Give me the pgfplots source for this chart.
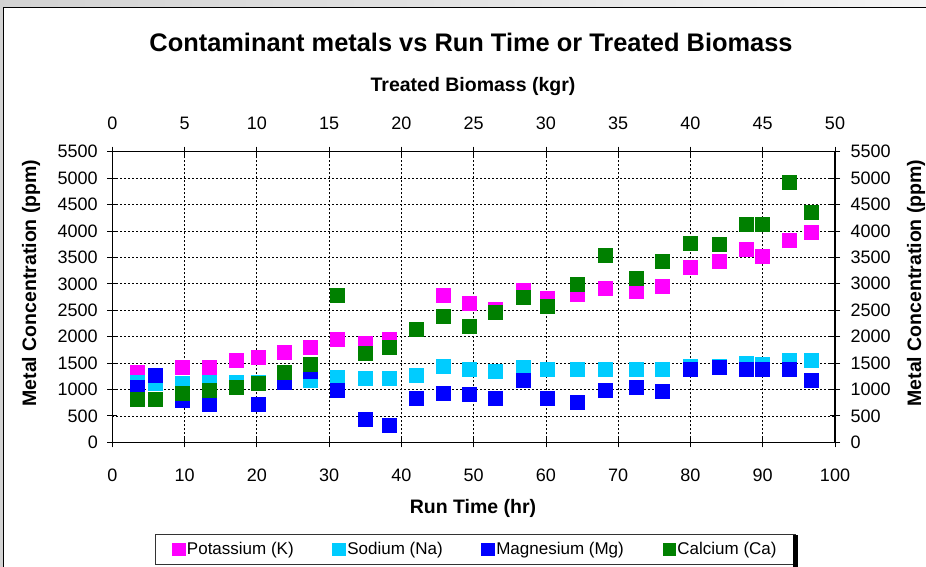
\documentclass[border=0pt]{standalone}
\usepackage{pgfplots}
\pgfplotsset{compat=1.18}
\usepackage{pgfplotstable}
\usepackage{fontspec}
\setmainfont{Liberation Sans}
\definecolor{cK}{HTML}{FF00FF}
\definecolor{cNa}{HTML}{00CCFF}
\definecolor{cMg}{HTML}{0000FF}
\definecolor{cCa}{HTML}{008000}

\pgfplotstableread{
x y
3.51 1318
9.64 1425
13.42 1425
17.21 1552
20.12 1602
23.76 1709
27.36 1804
31.15 1955
34.97 1880
38.25 1943
45.80 2782
49.45 2624
53.05 2523
56.83 2877
60.11 2731
64.26 2801
68.22 2908
72.56 2851
76.02 2959
79.98 3318
83.99 3419
87.78 3647
89.94 3520
93.73 3823
96.64 3981
}\tK
\pgfplotstableread{
x y
3.51 1141
5.87 1110
9.64 1110
13.42 1141
17.21 1141
20.12 1141
27.36 1185
31.15 1236
34.97 1217
38.25 1217
42.02 1268
45.80 1444
49.45 1375
53.05 1350
56.83 1425
60.11 1375
64.26 1375
68.22 1375
72.56 1375
76.02 1375
79.98 1444
83.99 1444
87.78 1501
89.94 1476
93.73 1551
96.64 1551
}\tNa
\pgfplotstableread{
x y
3.51 1047
5.87 1268
9.64 788
13.42 725
20.12 712
23.76 1135
27.36 1343
31.15 983
34.97 428
38.25 321
42.02 838
45.80 933
49.45 908
53.05 838
56.83 1173
60.11 838
64.26 756
68.22 983
72.56 1047
76.02 965
79.98 1375
83.99 1425
87.78 1375
89.94 1375
93.73 1375
96.64 1167
}\tMg
\pgfplotstableread{
x y
3.51 807
5.87 807
9.64 933
13.42 983
17.21 1047
20.12 1122
23.76 1318
27.36 1476
31.15 2776
34.97 1678
38.25 1804
42.02 2132
45.80 2378
49.45 2189
53.05 2454
56.83 2750
60.11 2574
64.26 2999
68.22 3539
72.56 3110
76.02 3419
79.98 3773
83.99 3747
87.78 4126
89.94 4126
93.73 4927
96.64 4360
}\tCa

\pgfplotsset{
  common/.style={
    at={(112.3pt,-442.3pt)}, anchor=south west,
    width=722.7pt, height=290.6pt, scale only axis,
    ymin=0, ymax=5500, ytick={0,500,...,5500},
    tick align=center, major tick length=10pt,
    axis line style={line width=1.3pt},
    tick style={line width=0.8pt, black},
    ticklabel style={font=\fontsize{18}{20}\selectfont},
    /pgf/number format/assume math mode=true,
    /pgf/number format/set thousands separator={},
  }
}

\begin{document}
\begin{tikzpicture}[x=1pt,y=1pt]
\useasboundingbox (0,-566) rectangle (926,0);
\clip (0,-566) rectangle (926,0);
\shade[left color=gray!35, right color=gray!8] (0,-566) rectangle (926,0);
\fill[white] (3.5,-7.5) rectangle (930,-570);
\draw[line width=1pt] (3.5,-570) -- (3.5,-7.5) -- (930,-7.5);

\begin{axis}[common,
  xmin=0, xmax=100, xtick={0,10,...,100},
  xtick pos=bottom, ytick pos=left,
  grid=major, grid style={black, line width=0.7pt, dash pattern=on 2pt off 2pt},
  xticklabel style={yshift=-18pt},
  yticklabel style={xshift=-6pt},
  legend style={at={(0.0591,-0.3156)}, anchor=north west, legend columns=4,
    draw=black!80, line width=0.7pt, font=\fontsize{17}{20}\selectfont,
    inner xsep=17pt, inner ysep=6pt,
    /tikz/every even column/.append style={column sep=37pt}},
  legend image post style={mark size=6.3pt},
  every axis plot/.append style={only marks, mark=square*, mark size=7pt},
]
\addplot[cK, mark options={fill=cK, draw=cK}] table {\tK};
\addlegendentry{Potassium (K)}
\addplot[cNa, mark options={fill=cNa, draw=cNa}] table {\tNa};
\addlegendentry{Sodium (Na)}
\addplot[cMg, mark options={fill=cMg, draw=cMg}] table {\tMg};
\addlegendentry{Magnesium (Mg)}
\addplot[cCa, mark options={fill=cCa, draw=cCa}] table {\tCa};
\addlegendentry{Calcium (Ca)}
\end{axis}

\begin{axis}[common,
  xmin=0, xmax=50, xtick={0,5,...,50},
  xtick pos=top, ytick pos=right,
  xticklabel pos=top, yticklabel pos=right,
  xticklabel style={yshift=14pt},
  yticklabel style={xshift=7pt},
]
\end{axis}

\node[font=\bfseries\fontsize{25.4}{30}\selectfont] at (471,-42) {Contaminant metals vs Run Time or Treated Biomass};
\node[font=\bfseries\fontsize{19.5}{23}\selectfont] at (473,-86) {Treated Biomass (kgr)};
\node[font=\bfseries\fontsize{19.5}{23}\selectfont] at (473,-508) {Run Time (hr)};
\node[font=\bfseries\fontsize{19.5}{23}\selectfont, rotate=90] at (31,-283) {Metal Concentration (ppm)};
\node[font=\bfseries\fontsize{19.5}{23}\selectfont, rotate=90] at (916,-283) {Metal Concentration (ppm)};
\draw[line width=5pt] (795.5,-535) -- (795.5,-570);
\end{tikzpicture}
\end{document}
